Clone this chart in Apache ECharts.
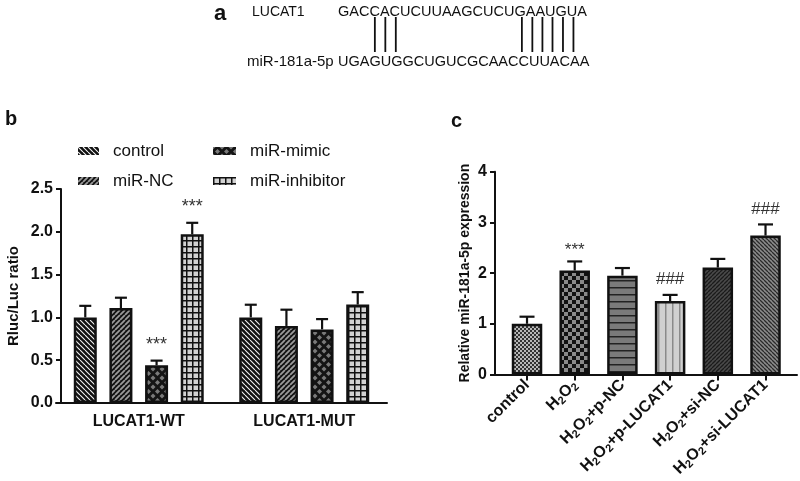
<!DOCTYPE html>
<html><head><meta charset="utf-8">
<script src="https://cdn.jsdelivr.net/npm/echarts@6/dist/echarts.min.js"></script>
<style>html,body{margin:0;padding:0;background:#fff}#c{width:800px;height:481px}</style>
</head><body><div id="c"></div>
<script>
// ---------- Panel a: sequences ----------
const seqLabelTop = 'LUCAT1';
const seqLabelBottom = 'miR-181a-5p';
const seqTop = 'GACCACUCUUAAGCUCUGAAUGUA';
const seqBottom = 'UGAGUGGCUGUCGCAACCUUACAA';
const pairIdx = [3, 4, 5, 17, 18, 19, 20, 21, 22];

// ---------- Panel b ----------
const bCategories = ['LUCAT1-WT', 'LUCAT1-MUT'];
const bSeriesNames = ['control', 'miR-NC', 'miR-mimic', 'miR-inhibitor'];
const bControl = [1.00, 1.00];
const bNC = [1.11, 0.90];
const bMimic = [0.44, 0.86];
const bInhibitor = [1.97, 1.15];
const bControlErr = [0.135, 0.148];
const bNCErr = [0.12, 0.19];
const bMimicErr = [0.055, 0.12];
const bInhibitorErr = [0.135, 0.145];
const bControlNote = ['', ''];
const bNCNote = ['', ''];
const bMimicNote = ['***', ''];
const bInhibitorNote = ['***', ''];
const bYTickLabels = ['0.0', '0.5', '1.0', '1.5', '2.0', '2.5'];
const bYName = 'Rluc/Luc ratio';

// ---------- Panel c ----------
const cCategories = ['control', 'H2O2', 'H2O2+p-NC', 'H2O2+p-LUCAT1', 'H2O2+si-NC', 'H2O2+si-LUCAT1'];
const cValues = [1.00, 2.05, 1.95, 1.45, 2.11, 2.74];
const cErr = [0.14, 0.18, 0.15, 0.12, 0.17, 0.22];
const cNotes = ['', '***', '', '###', '', '###'];
const cYTickLabels = ['0', '1', '2', '3', '4'];
const cYName = 'Relative miR-181a-5p expression';

const FONT = '"Liberation Sans", Arial, sans-serif';
const INK = '#111';

// ---------- patterns ----------
function makePattern(w, h, bg, draw) {
  const cv = document.createElement('canvas');
  cv.width = w; cv.height = h;
  const g = cv.getContext('2d');
  g.fillStyle = bg; g.fillRect(0, 0, w, h);
  draw(g, w, h);
  return { image: cv, repeat: 'repeat' };
}
function diag(dir, fg, lw) {
  return function (g, w, h) {
    g.strokeStyle = fg; g.lineWidth = lw; g.beginPath();
    for (let k = -1; k <= 1; k++) {
      if (dir > 0) { g.moveTo(k * w, h); g.lineTo(k * w + w, 0); }
      else { g.moveTo(k * w, 0); g.lineTo(k * w + w, h); }
    }
    g.stroke();
  };
}
function checker(fg, s) {
  return function (g) { g.fillStyle = fg; g.fillRect(0, 0, s, s); g.fillRect(s, s, s, s); };
}
function gridLines(fg, lw) {
  return function (g, w, h) { g.fillStyle = fg; g.fillRect(0, 0, w, lw); g.fillRect(0, 0, lw, h); };
}
function hLines(fg, lw) { return function (g, w, h) { g.fillStyle = fg; g.fillRect(0, 0, w, lw); }; }
function vLines(fg, lw) { return function (g, w, h) { g.fillStyle = fg; g.fillRect(0, 0, lw, h); }; }
function diamonds(fg) {
  return function (g, w, h) {
    g.fillStyle = fg;
    const r = w * 0.28;
    const pts = [[w / 2, h / 2], [0, 0], [w, 0], [0, h], [w, h]];
    pts.forEach(function (p) {
      g.beginPath(); g.moveTo(p[0], p[1] - r); g.lineTo(p[0] + r, p[1]);
      g.lineTo(p[0], p[1] + r); g.lineTo(p[0] - r, p[1]); g.closePath(); g.fill();
    });
  };
}

const bPatterns = [
  makePattern(5, 5, '#111', diag(-1, '#f4f4f4', 1.1)),
  makePattern(5, 5, '#111', diag(1, '#9a9a9a', 1.8)),
  makePattern(9, 9, '#141414', diamonds('#7a7a7a')),
  makePattern(6, 6, '#d2d2d2', gridLines('#111', 1.5))
];
const cPatterns = [
  makePattern(4, 4, '#b8b8b8', checker('#333', 2)),
  makePattern(8, 8, '#8a8a8a', checker('#111', 4)),
  makePattern(7, 7, '#7a7a7a', hLines('#222', 1.5)),
  makePattern(7, 7, '#d0d0d0', vLines('#8a8a8a', 1.5)),
  makePattern(4, 4, '#4a4a4a', diag(1, '#1a1a1a', 1.3)),
  makePattern(4, 4, '#8c8c8c', diag(-1, '#2a2a2a', 1.3))
];

// ---------- helpers ----------
const bBarWidth = 23;
const bBarGap = 0.55;
const bValues = [bControl, bNC, bMimic, bInhibitor];
const bErrs = [bControlErr, bNCErr, bMimicErr, bInhibitorErr];
const bNotes = [bControlNote, bNCNote, bMimicNote, bInhibitorNote];

function errorRenderer(notes, offsetPx, capW, noteFont, starShift, hashShift) {
  return function (params, api) {
    const xv = api.value(0), mean = api.value(1), top = api.value(2);
    const p0 = api.coord([xv, mean]);
    const p1 = api.coord([xv, top]);
    const x = p0[0] + offsetPx;
    const children = [
      { type: 'line', shape: { x1: x, y1: p0[1], x2: x, y2: p1[1] }, style: { stroke: INK, lineWidth: 2.2 } },
      { type: 'line', shape: { x1: x - capW / 2, y1: p1[1], x2: x + capW / 2, y2: p1[1] }, style: { stroke: INK, lineWidth: 2.2 } }
    ];
    const note = notes[params.dataIndex];
    if (note) {
      const shift = note.charAt(0) === '*' ? starShift : hashShift;
      children.push({
        type: 'text',
        style: { text: note, x: x, y: p1[1] - shift, fill: '#333', fontSize: noteFont, fontFamily: FONT, align: 'center', verticalAlign: 'middle' }
      });
    }
    return { type: 'group', children: children };
  };
}

const series = [];
bSeriesNames.forEach(function (name, k) {
  series.push({
    type: 'bar', name: name, xAxisIndex: 0, yAxisIndex: 0,
    data: bValues[k], barWidth: bBarWidth, barGap: (bBarGap * 100) + '%',
    itemStyle: { color: bPatterns[k], borderColor: INK, borderWidth: 2.5 },
    emphasis: { disabled: true }, z: 2
  });
});
bSeriesNames.forEach(function (name, k) {
  const spacing = bBarWidth * (1 + bBarGap);
  series.push({
    type: 'custom', xAxisIndex: 0, yAxisIndex: 0, z: 3,
    data: bCategories.map(function (c, i) { return [i, bValues[k][i], bValues[k][i] + bErrs[k][i]]; }),
    encode: { x: 0, y: [1, 2] },
    renderItem: errorRenderer(bNotes[k], (k - (bSeriesNames.length - 1) / 2) * spacing, 12, 18, 15.5, 15),
    silent: true
  });
});

series.push({
  type: 'bar', xAxisIndex: 1, yAxisIndex: 1, barWidth: 30.5, z: 2,
  data: cValues.map(function (v, i) {
    return { value: [i, v], itemStyle: { color: cPatterns[i], borderColor: INK, borderWidth: 2.5 } };
  }),
  emphasis: { disabled: true }
});
series.push({
  type: 'custom', xAxisIndex: 1, yAxisIndex: 1, z: 3,
  data: cValues.map(function (v, i) { return [i, v, v + cErr[i]]; }),
  encode: { x: 0, y: [1, 2] },
  renderItem: errorRenderer(cNotes, 0, 15, 17, 11.5, 15.5),
  silent: true
});

// ---------- panel a graphics ----------
const mctx = document.createElement('canvas').getContext('2d');
const seqFontSize = 14.5;
mctx.font = seqFontSize + 'px ' + FONT;
const seqX = 338;
function charCenter(seq, i) {
  return seqX + mctx.measureText(seq.slice(0, i)).width + mctx.measureText(seq[i]).width / 2;
}
const graphics = [
  { type: 'text', left: 214, top: 3, style: { text: 'a', fontSize: 22, fontWeight: 'bold', fontFamily: FONT, fill: INK } },
  { type: 'text', x: 252, y: 12, style: { text: seqLabelTop, fontSize: 14, fontFamily: FONT, fill: INK, verticalAlign: 'middle' } },
  { type: 'text', x: seqX, y: 12, style: { text: seqTop, fontSize: seqFontSize, fontFamily: FONT, fill: INK, verticalAlign: 'middle' } },
  { type: 'text', x: 247, y: 62, style: { text: seqLabelBottom, fontSize: 15, fontFamily: FONT, fill: INK, verticalAlign: 'middle' } },
  { type: 'text', x: seqX, y: 62, style: { text: seqBottom, fontSize: seqFontSize, fontFamily: FONT, fill: INK, verticalAlign: 'middle' } },
  { type: 'text', left: 5, top: 109, style: { text: 'b', fontSize: 20, fontWeight: 'bold', fontFamily: FONT, fill: INK } },
  { type: 'text', left: 451, top: 111, style: { text: 'c', fontSize: 20, fontWeight: 'bold', fontFamily: FONT, fill: INK } }
];
pairIdx.forEach(function (i) {
  const xt = charCenter(seqTop, i);
  const xb = charCenter(seqBottom, i);
  const x = (xt + xb) / 2;
  graphics.push({ type: 'line', shape: { x1: x, y1: 17, x2: x, y2: 52 }, style: { stroke: INK, lineWidth: 1.8 } });
});

function subFmt(s) { return s.replace(/H2O2/g, 'H{s|2}O{s|2}'); }

const legendText = { fontSize: 17, color: INK, fontFamily: FONT, padding: [0, 0, 0, 9], lineHeight: 18 };

const option = {
  animation: false,
  textStyle: { fontFamily: FONT },
  graphic: graphics,
  legend: [
    { data: [bSeriesNames[0], bSeriesNames[1]], orient: 'vertical', left: 73, top: 137, itemWidth: 21, itemHeight: 8, itemGap: 12,
      icon: 'rect', selectedMode: false, textStyle: legendText, itemStyle: { borderWidth: 0 } },
    { data: [bSeriesNames[2], bSeriesNames[3]], orient: 'vertical', left: 208, top: 137, itemWidth: 23, itemHeight: 8, itemGap: 12,
      icon: 'rect', selectedMode: false, textStyle: legendText, itemStyle: { borderWidth: 0 } }
  ],
  grid: [
    { left: 56, top: 189, width: 331, height: 214, containLabel: false },
    { left: 491, top: 171.7, width: 306, height: 202.8, containLabel: false }
  ],
  xAxis: [
    { type: 'category', gridIndex: 0, data: bCategories,
      axisLine: { lineStyle: { color: INK, width: 2 } },
      axisTick: { alignWithLabel: true, length: 5, lineStyle: { color: INK, width: 2 } },
      axisLabel: { fontSize: 16, fontWeight: 'bold', color: INK, margin: 11 },
      splitLine: { show: false } },
    { type: 'value', gridIndex: 1, min: -0.755, max: 5.66,
      axisLine: { show: true, onZero: false, lineStyle: { color: INK, width: 2 } },
      axisTick: { show: true, length: 6, customValues: cCategories.map(function (c, i) { return i; }), lineStyle: { color: INK, width: 2 } },
      axisLabel: { show: true, customValues: cCategories.map(function (c, i) { return i; }), rotate: 45, margin: 8,
        fontSize: 16, fontWeight: 'bold', color: INK,
        formatter: function (v) { return subFmt(cCategories[Math.round(v)] || ''); },
        rich: { s: { fontSize: 11, fontWeight: 'bold', color: INK, padding: [8, 0, 0, 0] } } },
      splitLine: { show: false } }
  ],
  yAxis: [
    { type: 'value', gridIndex: 0, min: 0, max: 2.5, interval: 0.5, offset: -5,
      name: bYName, nameLocation: 'middle', nameGap: 40,
      nameTextStyle: { fontSize: 15, fontWeight: 'bold', color: INK },
      axisLine: { show: true, onZero: false, lineStyle: { color: INK, width: 2 } },
      axisTick: { show: true, length: 5, lineStyle: { color: INK, width: 2 } },
      axisLabel: { fontSize: 16, fontWeight: 'bold', color: INK, margin: 8,
        formatter: function (v) { return bYTickLabels[Math.round(v / 0.5)]; } },
      splitLine: { show: false } },
    { type: 'value', gridIndex: 1, min: 0, max: 4, interval: 1, offset: -4,
      name: cYName, nameLocation: 'middle', nameGap: 23,
      nameTextStyle: { fontSize: 14, fontWeight: 'bold', color: INK },
      axisLine: { show: true, onZero: false, lineStyle: { color: INK, width: 2 } },
      axisTick: { show: true, length: 5, lineStyle: { color: INK, width: 2 } },
      axisLabel: { fontSize: 16, fontWeight: 'bold', color: INK, margin: 8,
        formatter: function (v) { return cYTickLabels[Math.round(v)]; } },
      splitLine: { show: false } }
  ],
  series: series
};

const chart = echarts.init(document.getElementById('c'), null, { renderer: 'canvas' });
chart.setOption(option);
</script>
</body></html>
